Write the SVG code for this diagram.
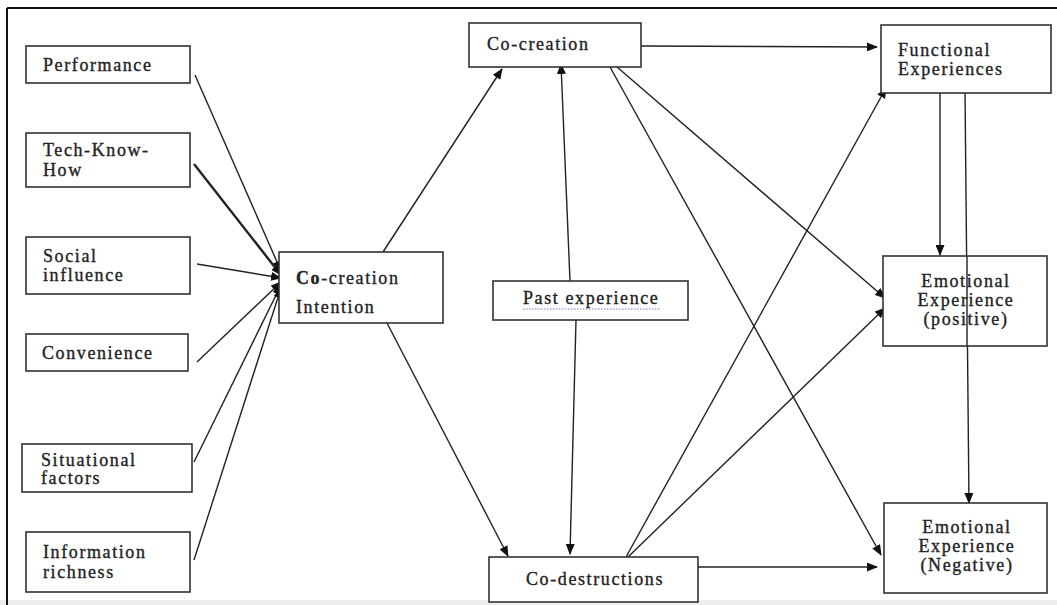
<svg xmlns="http://www.w3.org/2000/svg" width="1057" height="605" viewBox="0 0 1057 605">
  <style>
    .box { fill: #ffffff; stroke: #333333; stroke-width: 1.6; }
    .t { font-family: "Liberation Serif", "Times New Roman", serif; font-size: 18px; letter-spacing: 1.6px; fill: #222222; stroke: #222222; stroke-width: 0.35; }
    .c { text-anchor: middle; }
    .ln { stroke: #222222; stroke-width: 1.4; fill: none; marker-end: url(#ah); }
    .frame { stroke: #111111; stroke-width: 2; fill: none; }
  </style>
  <defs>
    <marker id="ah" markerUnits="userSpaceOnUse" markerWidth="11" markerHeight="9" refX="10" refY="4.5" orient="auto">
      <path d="M0,0 L11,4.5 L0,9 z" fill="#111111"/>
    </marker>
  </defs>
  <rect x="0" y="0" width="1057" height="605" fill="#ffffff"/>
  <rect x="0" y="600" width="1057" height="5" fill="#eeeeee"/>
  <g id="frame">
    <line class="frame" x1="7" y1="8" x2="1057" y2="8"/>
    <line class="frame" x1="7" y1="8" x2="7" y2="605"/>
  </g>

  <g id="connectors">
    <line class="ln" x1="195" y1="75" x2="281" y2="271"/>
    <line class="ln" x1="194" y1="164" x2="281" y2="275" style="stroke-width:2.4"/>
    <line class="ln" x1="197" y1="264" x2="281" y2="278"/>
    <line class="ln" x1="197" y1="362" x2="281" y2="282"/>
    <line class="ln" x1="194" y1="462" x2="281" y2="285"/>
    <line class="ln" x1="194" y1="560" x2="281" y2="288"/>
    <line class="ln" x1="383" y1="252" x2="502" y2="69"/>
    <line class="ln" x1="387" y1="323" x2="508" y2="556"/>
    <line class="ln" x1="570" y1="281" x2="561" y2="64"/>
    <line class="ln" x1="576" y1="320" x2="570" y2="554"/>
    <line class="ln" x1="641" y1="46" x2="877" y2="47"/>
    <line class="ln" x1="617" y1="67" x2="885" y2="298"/>
    <line class="ln" x1="610" y1="67" x2="881" y2="555"/>
    <line class="ln" x1="626" y1="557" x2="886" y2="88"/>
    <line class="ln" x1="628" y1="557" x2="885" y2="308"/>
    <line class="ln" x1="659" y1="567" x2="877" y2="567"/>
    <line class="ln" x1="940" y1="93" x2="940" y2="255"/>
    <line class="ln" x1="965" y1="91" x2="969" y2="503"/>
  </g>

  <g id="performance">
    <rect class="box" x="26" y="46" width="164" height="37"/>
    <text class="t" x="43" y="71">Performance</text>
  </g>
  <g id="tech-know-how">
    <rect class="box" x="26" y="133" width="164" height="54"/>
    <text class="t" x="43" y="156">Tech-Know-</text>
    <text class="t" x="43" y="176">How</text>
  </g>
  <g id="social-influence">
    <rect class="box" x="26" y="237" width="164" height="57"/>
    <text class="t" x="43" y="262">Social</text>
    <text class="t" x="43" y="281">influence</text>
  </g>
  <g id="convenience">
    <rect class="box" x="26" y="334" width="162" height="37"/>
    <text class="t" x="42" y="359">Convenience</text>
  </g>
  <g id="situational-factors">
    <rect class="box" x="22" y="444" width="170" height="48"/>
    <text class="t" x="41" y="466">Situational</text>
    <text class="t" x="41" y="484">factors</text>
  </g>
  <g id="information-richness">
    <rect class="box" x="26" y="532" width="164" height="60"/>
    <text class="t" x="43" y="558">Information</text>
    <text class="t" x="43" y="578">richness</text>
  </g>
  <g id="co-creation-intention">
    <rect class="box" x="279" y="252" width="164" height="71"/>
    <text class="t" x="296" y="284"><tspan font-weight="bold">Co</tspan>-creation</text>
    <text class="t" x="296" y="313">Intention</text>
  </g>
  <g id="co-creation">
    <rect class="box" x="469" y="23" width="172" height="44"/>
    <text class="t" x="487" y="50">Co-creation</text>
  </g>
  <g id="past-experience">
    <rect class="box" x="493" y="281" width="195" height="39"/>
    <text class="t" x="523" y="304">Past experience</text>
    <line x1="523" y1="309" x2="660" y2="309" stroke="#7777cc" stroke-width="1.2" stroke-dasharray="1.5 1.5"/>
  </g>
  <g id="co-destructions">
    <rect class="box" x="489" y="557" width="209" height="45"/>
    <text class="t" x="526" y="585">Co-destructions</text>
  </g>
  <g id="functional-experiences">
    <rect class="box" x="881" y="25" width="170" height="68"/>
    <text class="t" x="898" y="56">Functional</text>
    <text class="t" x="898" y="75">Experiences</text>
  </g>
  <g id="emotional-positive">
    <rect class="box" x="883" y="256" width="164" height="90"/>
    <text class="t c" x="966" y="287">Emotional</text>
    <text class="t c" x="966" y="306">Experience</text>
    <text class="t c" x="966" y="325">(positive)</text>
  </g>
  <line x1="967" y1="256" x2="967" y2="346" stroke="#222222" stroke-width="1.4"/>
  <g id="emotional-negative">
    <rect class="box" x="884" y="503" width="163" height="90"/>
    <text class="t c" x="967" y="533">Emotional</text>
    <text class="t c" x="967" y="552">Experience</text>
    <text class="t c" x="967" y="571">(Negative)</text>
  </g>
</svg>
